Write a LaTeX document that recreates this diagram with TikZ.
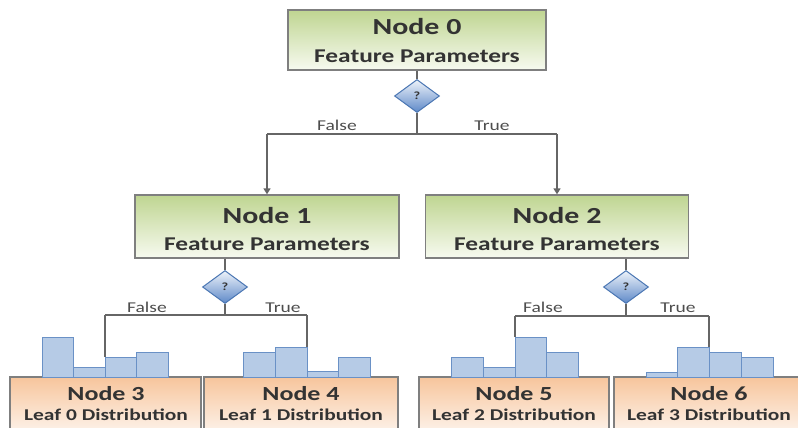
\documentclass[tikz,border=0pt]{standalone}
\usepackage{fontspec}
\newfontfamily\cf[FakeStretch=1.3]{Carlito}
\usetikzlibrary{shapes.geometric,arrows.meta,calc}
\definecolor{grtop}{HTML}{BFD591}
\definecolor{grbot}{HTML}{F7FAF0}
\definecolor{ortop}{HTML}{F7C59C}
\definecolor{orbot}{HTML}{FDF2E9}
\definecolor{boxgray}{HTML}{7F7F7F}
\definecolor{linegray}{HTML}{666666}
\definecolor{txtc}{HTML}{333333}
\definecolor{lblc}{HTML}{4D4D4D}
\definecolor{barfill}{HTML}{B6CBE6}
\definecolor{bardraw}{HTML}{6A91C6}
\definecolor{dtop}{HTML}{EEF3FA}
\definecolor{dbot}{HTML}{5E89C8}
\definecolor{ddraw}{HTML}{4A76B3}
\begin{document}
\begin{tikzpicture}[x=1pt,y=-1pt,
  splitbox/.style={rectangle,draw=boxgray,line width=1.3pt,top color=grtop,bottom color=grbot,inner sep=0pt,minimum height=63pt},
  leafbox/.style={rectangle,draw=boxgray,line width=1.3pt,top color=ortop,bottom color=orbot,inner sep=0pt,minimum height=55pt},
  bigtxt/.style={font=\cf\bfseries\fontsize{23}{23}\selectfont,text=txtc,anchor=base,inner sep=0pt},
  midtxt/.style={font=\cf\bfseries\fontsize{19.5}{19.5}\selectfont,text=txtc,anchor=base,inner sep=0pt},
  leaftxt/.style={font=\cf\bfseries\fontsize{20}{20}\selectfont,text=txtc,anchor=base,inner sep=0pt},
  disttxt/.style={font=\cf\bfseries\fontsize{16.5}{16.5}\selectfont,text=txtc,anchor=base,inner sep=0pt},
  lbl/.style={font=\cf\fontsize{15}{15}\selectfont,text=lblc,anchor=base,inner sep=0pt},
  test/.style={diamond,draw=ddraw,line width=1pt,top color=dtop,bottom color=dbot,inner sep=0pt,minimum width=45pt,minimum height=33pt,font=\cf\bfseries\fontsize{11}{11}\selectfont,text=txtc},
  conn/.style={draw=linegray,line width=2pt},
  arr/.style={conn,-{Triangle[width=7pt,length=6pt]}},
  bar/.style={fill=barfill,draw=bardraw,line width=1pt}
]
\clip (0,0) rectangle (798,428);
\fill[white] (0,0) rectangle (798,428);

% split nodes
\node[splitbox,minimum width=258pt,minimum height=60pt] (n0) at (417,40) {};
\node[bigtxt] (n0a) at (417,35) {Node 0};
\node[midtxt] (n0b) at (417,63) {Feature Parameters};

\node[splitbox,minimum width=264pt] (n1) at (267,226.5) {};
\node[bigtxt] (n1a) at (267,223) {Node 1};
\node[midtxt] (n1b) at (267,250) {Feature Parameters};

\node[splitbox,minimum width=263pt] (n2) at (557,226.5) {};
\node[bigtxt] (n2a) at (557,223) {Node 2};
\node[midtxt] (n2b) at (557,250) {Feature Parameters};

% leaves
\node[leafbox,minimum width=191pt] (n3) at (105.5,404.5) {};
\node[leaftxt] (n3a) at (106,400) {Node 3};
\node[disttxt] (n3b) at (106,420) {Leaf 0 Distribution};

\node[leafbox,minimum width=194pt] (n4) at (301,404.5) {};
\node[leaftxt] (n4a) at (301,400) {Node 4};
\node[disttxt] (n4b) at (301,420) {Leaf 1 Distribution};

\node[leafbox,minimum width=190pt] (n5) at (514,404.5) {};
\node[leaftxt] (n5a) at (514,400) {Node 5};
\node[disttxt] (n5b) at (514,420) {Leaf 2 Distribution};

\node[leafbox,minimum width=188pt] (n6) at (708,404.5) {};
\node[leaftxt] (n6a) at (709,400) {Node 6};
\node[disttxt] (n6b) at (709,420) {Leaf 3 Distribution};

% histograms
\foreach \xa/\xb/\t in {42/73.5/337,73.5/105/367,105/136.5/357,136.5/168/352,
                        243/275/352,275/307/347,307/338.5/371,338.5/370/357,
                        451/483/357,483/515/367,515/546.5/337,546.5/578/352,
                        646/677.5/372,677.5/709/347,709/741/352,741/773/357}
  \draw[bar] (\xa,377) rectangle (\xb,\t);

% tests
\node[test] (d0) at (417,96) {?};
\node[test] (d1) at (225,287) {?};
\node[test] (d2) at (626,287) {?};

% connectors level 0
\coordinate (h0) at (417,134);
\coordinate (h0l) at (267,134);
\coordinate (h0r) at (557,134);
\draw[conn] (n0.south) -- (d0.north);
\draw[conn] (d0.south) -- (h0);
\draw[conn] (h0l) -- (h0r);
\draw[arr] (h0l) -- (n1.north);
\draw[arr] (h0r) -- (n2.north);
\node[lbl] (f0) at (337,130) {False};
\node[lbl] (t0) at (492,130) {True};

% connectors node 1
\coordinate (h1) at (225,315);
\coordinate (h1l) at (105,315);
\coordinate (h1r) at (307,315);
\coordinate (e3) at (105,357);
\coordinate (e4) at (307,347);
\draw[conn] (n1.south -| d1.north) -- (d1.north);
\draw[conn] (d1.south) -- (h1);
\draw[conn] (h1l) -- (h1r);
\draw[conn] (h1l) -- (e3);
\draw[conn] (h1r) -- (e4);
\node[lbl] (f1) at (147,312) {False};
\node[lbl] (t1) at (283,312) {True};

% connectors node 2
\coordinate (h2) at (626,316);
\coordinate (h2l) at (515,316);
\coordinate (h2r) at (709,316);
\coordinate (e5) at (515,337);
\coordinate (e6) at (709,347);
\draw[conn] (n2.south -| d2.north) -- (d2.north);
\draw[conn] (d2.south) -- (h2);
\draw[conn] (h2l) -- (h2r);
\draw[conn] (h2l) -- (e5);
\draw[conn] (h2r) -- (e6);
\node[lbl] (f2) at (543,312) {False};
\node[lbl] (t2) at (678,312) {True};
\end{tikzpicture}
\end{document}
